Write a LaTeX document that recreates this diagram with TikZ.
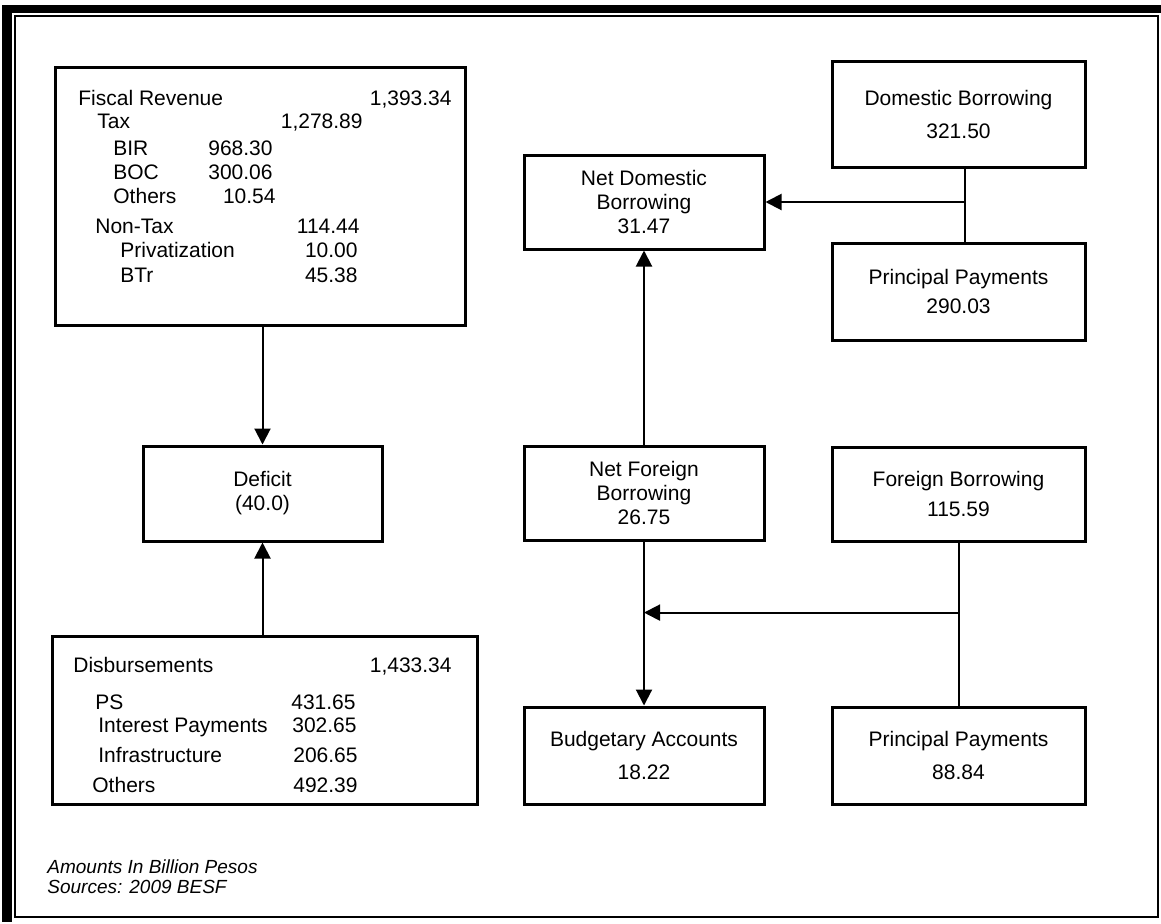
\documentclass[tikz,border=0pt]{standalone}
\usepackage{fontspec}
\setmainfont{Liberation Sans}
\usetikzlibrary{arrows.meta,calc}

\begin{document}
\begin{tikzpicture}[x=0.5pt, y=-0.5pt,
  box/.style={draw, line width=1.5pt, inner sep=0pt, align=center, font=\fontsize{10.5}{12}\selectfont},
  arr/.style={-{Triangle[length=8pt, width=8pt]}, line width=1pt},
  ln/.style={line width=1pt},
  txt/.style={inner sep=0pt, font=\fontsize{10.5}{12}\selectfont},
  lft/.style={txt, anchor=base west},
  rgt/.style={txt, anchor=base east},
  note/.style={inner sep=0pt, anchor=base west, font=\fontsize{9.5}{10}\selectfont\itshape}]
\useasboundingbox (0,0) rectangle (1161,923);
\fill (2,5) rectangle (12,922);
\fill (2,5) rectangle (1161,13);
\draw[line width=1pt] (15,16) rectangle (1158,917);

\node[box, minimum width=205pt, minimum height=129pt] (fiscal) at (260,196) {};
\node[box, minimum width=119.5pt, minimum height=47.5pt] (deficit) at (262.5,493.5) {Deficit\\(40.0)};
\node[box, minimum width=212.5pt, minimum height=84pt] (disb) at (264.5,720) {};
\node[box, minimum width=120pt, minimum height=47pt] (netdom) at (644,202) {Net Domestic\\Borrowing\\31.47};
\node[box, minimum width=126.5pt, minimum height=53pt] (dom) at (958.5,114) {Domestic Borrowing\\[4.5pt]321.50};
\node[box, minimum width=126.5pt, minimum height=48.5pt] (prindom) at (958.5,291.5) {Principal Payments\\[2.5pt]290.03};
\node[box, minimum width=120pt, minimum height=47pt] (netfor) at (644,493) {Net Foreign\\Borrowing\\26.75};
\node[box, minimum width=126.5pt, minimum height=47pt] (forb) at (958.5,494) {Foreign Borrowing\\[3pt]115.59};
\node[box, minimum width=120pt, minimum height=48.5pt] (budget) at (644,755.5) {Budgetary Accounts\\[4.5pt]18.22};
\node[box, minimum width=126.5pt, minimum height=48.5pt] (prinfor) at (958.5,755.5) {Principal Payments\\[4.5pt]88.84};

\foreach \t/\v/\xl/\xr/\y [count=\i] in {Fiscal Revenue/{1,393.34}/78/452/105, Tax/{1,278.89}/97/363/128,
  BIR/968.30/113/273/155, BOC/300.06/113/273/179, Others/10.54/113/276/203,
  Non-Tax/114.44/95/360/233, Privatization/10.00/120/358/257, BTr/45.38/120/358/282}
  {\node[lft] (rl\i) at (\xl,\y) {\t}; \node[rgt] (rv\i) at (\xr,\y) {\v};}
\foreach \t/\v/\xl/\xr/\y [count=\i] in {Disbursements/{1,433.34}/73/452/672, PS/431.65/95/356/709,
  Interest Payments/302.65/98/357/732, Infrastructure/206.65/98/358/762, Others/492.39/92/358/792}
  {\node[lft] (dl\i) at (\xl,\y) {\t}; \node[rgt] (dv\i) at (\xr,\y) {\v};}

\draw[arr] (fiscal.south -| deficit.north) -- (deficit.north);
\draw[arr] (disb.north -| deficit.south) -- (deficit.south);
\draw[arr] (netfor) -- (netdom);
\draw[arr] (netfor) -- (budget);
\coordinate (dj) at ([xshift=3.25pt]dom.south);
\draw[ln] (dj) -- (dj |- prindom.north);
\draw[arr] (dj |- netdom.east) -- (netdom.east);
\draw[ln] (forb) -- (prinfor);
\coordinate (fj) at ($(forb.south)!0.43!(prinfor.north)$);
\draw[arr] (fj) -- (fj -| netfor.south);

\node[note] (n1) at (47,873) {Amounts In Billion Pesos};
\node[note] (n2) at (47,893) {Sources: 2009 BESF};
\end{tikzpicture}
\end{document}
